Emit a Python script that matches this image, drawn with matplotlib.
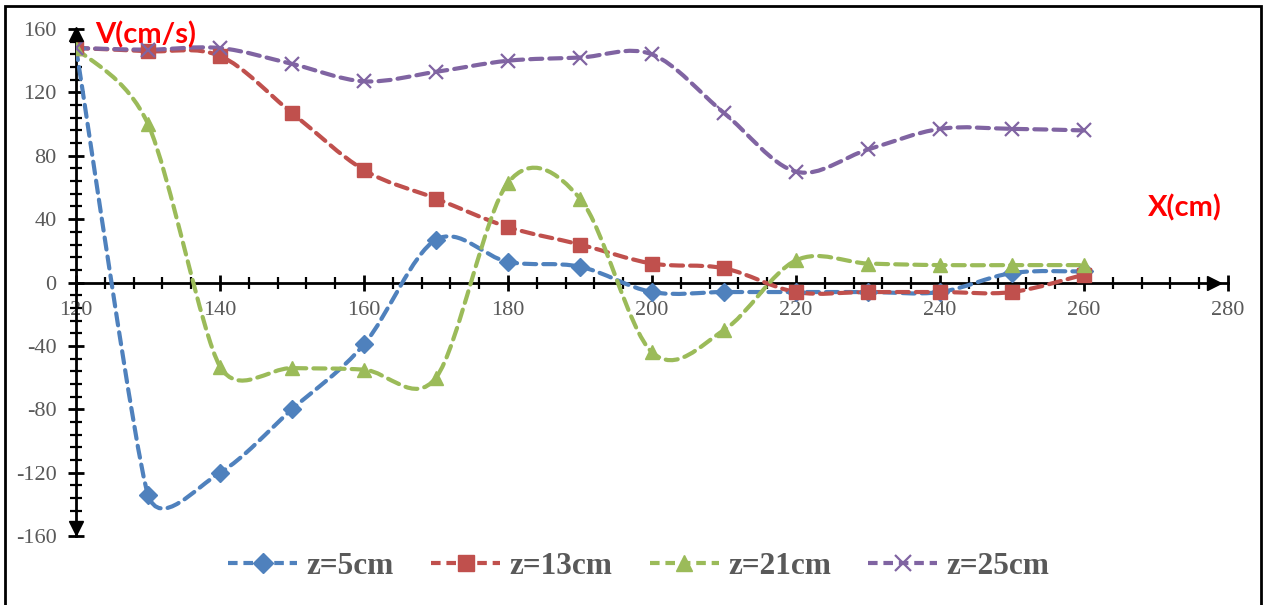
import numpy as np
import matplotlib
matplotlib.use("Agg")
import matplotlib.pyplot as plt
from matplotlib.path import Path
from matplotlib.patches import PathPatch, Rectangle
from matplotlib.lines import Line2D
from matplotlib.ticker import MultipleLocator

# positions along the channel (cm)
x_pos = [120, 130, 140, 150, 160, 170, 180, 190, 200, 210, 220, 230, 240, 250, 260]

v_z5 = [148, -134, -120, -80, -39, 27, 13, 10, -6, -6, -6, -6, -6, 6, 7]
v_z13 = [148, 146, 143, 107, 71, 53, 35, 24, 12, 9, -6, -6, -6, -6, 5]
v_z21 = [148, 100, -53, -54, -55, -60, 63, 53, -44, -30, 14, 12, 11, 11, 11]
v_z25 = [148, 147, 148, 138, 127, 133, 140, 142, 144, 107, 70, 84, 97, 97, 96]

labels = ['z=5cm', 'z=13cm', 'z=21cm', 'z=25cm']
colors = ['#4F81BD', '#C0504D', '#9BBB59', '#8064A2']
markers = ['D', 's', '^', 'x']
msizes = [9, 10, 10, 10]

SERIF = 'Liberation Serif'
GRAY = '#595959'
DASH = (0, (2.9, 1.7))

plt.rcParams['font.family'] = SERIF
plt.rcParams['axes.unicode_minus'] = False


def smooth_path(ax, xs, ys):
    # excel-like smoothed line, control points worked out in pixel space
    pts = ax.transData.transform(np.column_stack([xs, ys]).astype(float))
    n = len(pts)

    def ctrl(i, forward):
        p1 = pts[i]
        p0 = pts[max(i - 1, 0)]
        p2 = pts[min(i + 1, n - 1)]
        d02 = np.hypot(*(p2 - p0))
        if d02 == 0:
            return p1
        lim = [d02 / 6.0]
        if i > 0:
            lim.append(np.hypot(*(p1 - p0)) / 2.0)
        if i < n - 1:
            lim.append(np.hypot(*(p2 - p1)) / 2.0)
        d = min(lim)
        u = (p2 - p0) / d02
        return p1 + u * d if forward else p1 - u * d

    verts = [pts[0]]
    codes = [Path.MOVETO]
    for i in range(n - 1):
        verts += [ctrl(i, True), ctrl(i + 1, False), pts[i + 1]]
        codes += [Path.CURVE4] * 3
    verts = ax.transData.inverted().transform(np.array(verts))
    return Path(verts, codes)


fig = plt.figure(figsize=(12.65, 6.05), dpi=100)
ax = fig.add_axes([0.0601, 0.114, 0.9107, 0.838])
ax.set_xlim(120, 280)
ax.set_ylim(-160, 160)

series = [v_z5, v_z13, v_z21, v_z25]
handles = []
for vals, c, m, ms, lab in zip(series, colors, markers, msizes, labels):
    patch = PathPatch(smooth_path(ax, x_pos, vals), facecolor='none', edgecolor=c,
                      lw=3, linestyle=DASH, zorder=3, capstyle='round')
    ax.add_patch(patch)
    if m == 'x':
        ax.plot(x_pos, vals, linestyle='none', marker=m, ms=ms, mew=1.6,
                color=c, zorder=4)
    else:
        ax.plot(x_pos, vals, linestyle='none', marker=m, ms=ms, color=c,
                mec=c, zorder=4)
    handles.append(Line2D([0], [0], color=c, lw=3, linestyle=(0, (2.3, 1.4)),
                          marker=m, ms=ms + 1, mew=1.6 if m == 'x' else 1,
                          mec=c, mfc=c, label=lab))

for s in ['top', 'right']:
    ax.spines[s].set_visible(False)
ax.spines['bottom'].set_position(('data', 0))
ax.spines['bottom'].set_linewidth(2)
ax.spines['left'].set_linewidth(2)

ax.xaxis.set_major_locator(MultipleLocator(20))
ax.xaxis.set_minor_locator(MultipleLocator(4))
ax.yaxis.set_major_locator(MultipleLocator(40))
ax.yaxis.set_minor_locator(MultipleLocator(8))
ax.tick_params(which='major', direction='inout', length=12, width=2,
               labelsize=16, labelcolor=GRAY)
ax.tick_params(which='minor', direction='inout', length=8, width=1.6)
ax.tick_params(axis='x', which='major', pad=7)
ax.tick_params(axis='y', which='major', pad=8)

# axis arrows
ax.plot([120], [157], marker='^', ms=10, color='black', clip_on=False, zorder=5)
ax.plot([120], [-155], marker='v', ms=10, color='black', clip_on=False, zorder=5)
ax.plot([278], [0], marker='>', ms=10, color='black', clip_on=False, zorder=5)

ax.text(122.7, 156, 'V(cm/s)', color='red', fontsize=21, fontweight='bold',
        family='Lato', ha='left', va='center')
ax.text(279.2, 47, 'X(cm)', color='red', fontsize=21, fontweight='bold',
        family='Lato', ha='right', va='center')

leg = fig.legend(handles=handles, loc='center', bbox_to_anchor=(0.505, 0.063),
                 ncol=4, frameon=False, handlelength=2.2, columnspacing=1.2,
                 handletextpad=0.3,
                 prop={'family': SERIF, 'weight': 'bold', 'size': 22.5})
for t in leg.get_texts():
    t.set_color(GRAY)

# chart border
fig.patches.append(Rectangle((0.004, -0.01), 0.993, 1.0, transform=fig.transFigure,
                             fill=False, edgecolor='black', lw=2, zorder=10))

fig.savefig('out.png', dpi=100)
